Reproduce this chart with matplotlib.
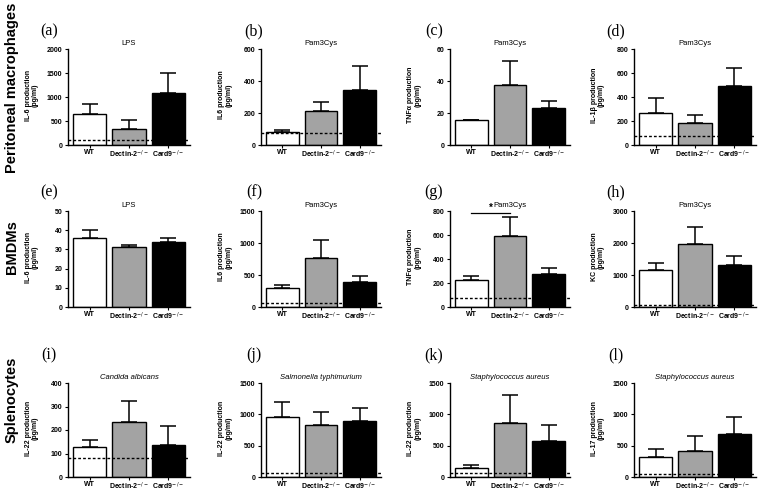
import numpy as np
import matplotlib.pyplot as plt

plt.rcParams['font.family'] = ['Liberation Sans', 'DejaVu Sans']

# groups and bar fills
groups = ['WT', 'Dectin-2$^{-/-}$', 'Card9$^{-/-}$']
bar_colors = ['white', '#a3a3a3', 'black']

row_names = ['Peritoneal macrophages', 'BMDMs', 'Splenocytes']
letters = ['(a)', '(b)', '(c)', '(d)', '(e)', '(f)', '(g)', '(h)', '(i)', '(j)', '(k)', '(l)']
stimuli = ['LPS', 'Pam3Cys', 'Pam3Cys', 'Pam3Cys',
           'LPS', 'Pam3Cys', 'Pam3Cys', 'Pam3Cys',
           'Candida albicans', 'Salmonella typhimurium',
           'Staphylococcus aureus', 'Staphylococcus aureus']
italic_title = [False] * 8 + [True] * 4
ylabels = ['IL-6 production\n(pg/ml)', 'IL6 production\n(pg/ml)',
           'TNF\u03b1 production\n(pg/ml)', 'IL-1\u03b2 production\n(pg/ml)',
           'IL-6 production\n(pg/ml)', 'IL6 production\n(pg/ml)',
           'TNF\u03b1 production\n(pg/ml)', 'KC production\n(pg/ml)',
           'IL-22 production\n(pg/ml)', 'IL-22 production\n(pg/ml)',
           'IL-22 production\n(pg/ml)', 'IL-17 production\n(pg/ml)']

# mean values (WT, Dectin-2-/-, Card9-/-) and upper error (SEM)
a_mean = [640, 335, 1080];  a_err = [217, 188, 418]
b_mean = [79, 210, 341];    b_err = [12, 59, 150]
c_mean = [15.6, 37.5, 22.9]; c_err = [0, 15.2, 4.4]
d_mean = [270, 185, 488];   d_err = [125, 63, 152]
e_mean = [35.7, 31.5, 34.1]; e_err = [4.3, 0.7, 1.6]
f_mean = [295, 772, 392];   f_err = [43, 273, 96]
g_mean = [226, 593, 276];   g_err = [36, 157, 52]
h_mean = [1160, 1957, 1298]; h_err = [223, 543, 298]
i_mean = [128, 236, 138];   i_err = [30, 87, 77]
j_mean = [953, 833, 895];   j_err = [245, 198, 214]
k_mean = [148, 864, 573];   k_err = [43, 450, 264]
l_mean = [327, 412, 686];   l_err = [127, 242, 274]

means = [a_mean, b_mean, c_mean, d_mean, e_mean, f_mean, g_mean, h_mean, i_mean, j_mean, k_mean, l_mean]
errs = [a_err, b_err, c_err, d_err, e_err, f_err, g_err, h_err, i_err, j_err, k_err, l_err]

# axis ranges and detection limit (dotted line), None = no line
y_max = [2000, 600, 60, 800, 50, 1500, 800, 3000, 400, 1500, 1500, 1500]
y_step = [500, 200, 20, 200, 10, 500, 200, 1000, 100, 500, 500, 500]
detect_limit = [100, 75, None, 77, None, 65, 77, 55, 79, 68, 68, 55]

# significance in panel (g)
sig_panel = 6
sig_pair = (0, 1)
sig_level = 785

W, H = 764, 493
fig = plt.figure(figsize=(W / 100, H / 100), dpi=100)

# layout in pixels
col_left = [68, 261, 450, 634]
col_width = [122, 120, 120, 122]
row_bottom = [145, 307, 477]
row_height = [96, 96, 94]
letter_dx = [19, 7, 16, 18]
letter_y = [31, 192, 355]
row_name_y = [88, 247, 400]

x = np.arange(len(groups))
for n in range(12):
    r, c = divmod(n, 4)
    ax = fig.add_axes([col_left[c] / W, 1 - row_bottom[r] / H,
                       col_width[c] / W, row_height[r] / H])
    ax.bar(x, means[n], width=0.84, color=bar_colors, edgecolor='black',
           linewidth=1.0, zorder=2)
    ax.errorbar(x, means[n], yerr=[np.zeros(3), errs[n]], fmt='none',
                ecolor='black', elinewidth=1.1, capsize=5.5, capthick=1.1, zorder=3)
    if detect_limit[n] is not None:
        ax.axhline(detect_limit[n], color='black', ls=(0, (2, 1.5)), lw=1.0, zorder=4)

    ax.set_xlim(-0.55, 2.55)
    ax.set_ylim(0, y_max[n])
    ax.set_yticks(np.arange(0, y_max[n] + 1, y_step[n]))
    ax.set_xticks(x)
    ax.set_xticklabels(groups)
    ax.tick_params(axis='both', labelsize=5, length=2.5, width=0.8, pad=1.5)
    ax.tick_params(axis='x', length=2, pad=0.8)
    for lab in ax.get_yticklabels() + ax.get_xticklabels():
        lab.set_fontweight('bold')
    for s in ['top', 'right']:
        ax.spines[s].set_visible(False)
    for s in ['left', 'bottom']:
        ax.spines[s].set_linewidth(1.0)

    ax.set_ylabel(ylabels[n], fontsize=5, fontweight='bold', linespacing=1.0)
    ax.yaxis.set_label_coords(-0.24, 0.52)
    ax.set_title(stimuli[n], fontsize=5.5, pad=3,
                 fontstyle='italic' if italic_title[n] else 'normal')

    fig.text((col_left[c] - letter_dx[c]) / W, 1 - letter_y[r] / H, letters[n],
             family=['Liberation Serif', 'DejaVu Serif'], fontsize=11.5,
             ha='center', va='center')

    if n == sig_panel:
        ax.plot(sig_pair, [sig_level, sig_level], color='black', lw=0.9, clip_on=False)
        ax.text(np.mean(sig_pair), sig_level, '*', ha='center', va='bottom',
                fontsize=7, fontweight='bold')

for r, name in enumerate(row_names):
    fig.text(12 / W, 1 - row_name_y[r] / H, name, rotation=90, ha='center',
             va='center', fontsize=10.5, fontweight='bold')

fig.savefig('out.png', dpi=100)
